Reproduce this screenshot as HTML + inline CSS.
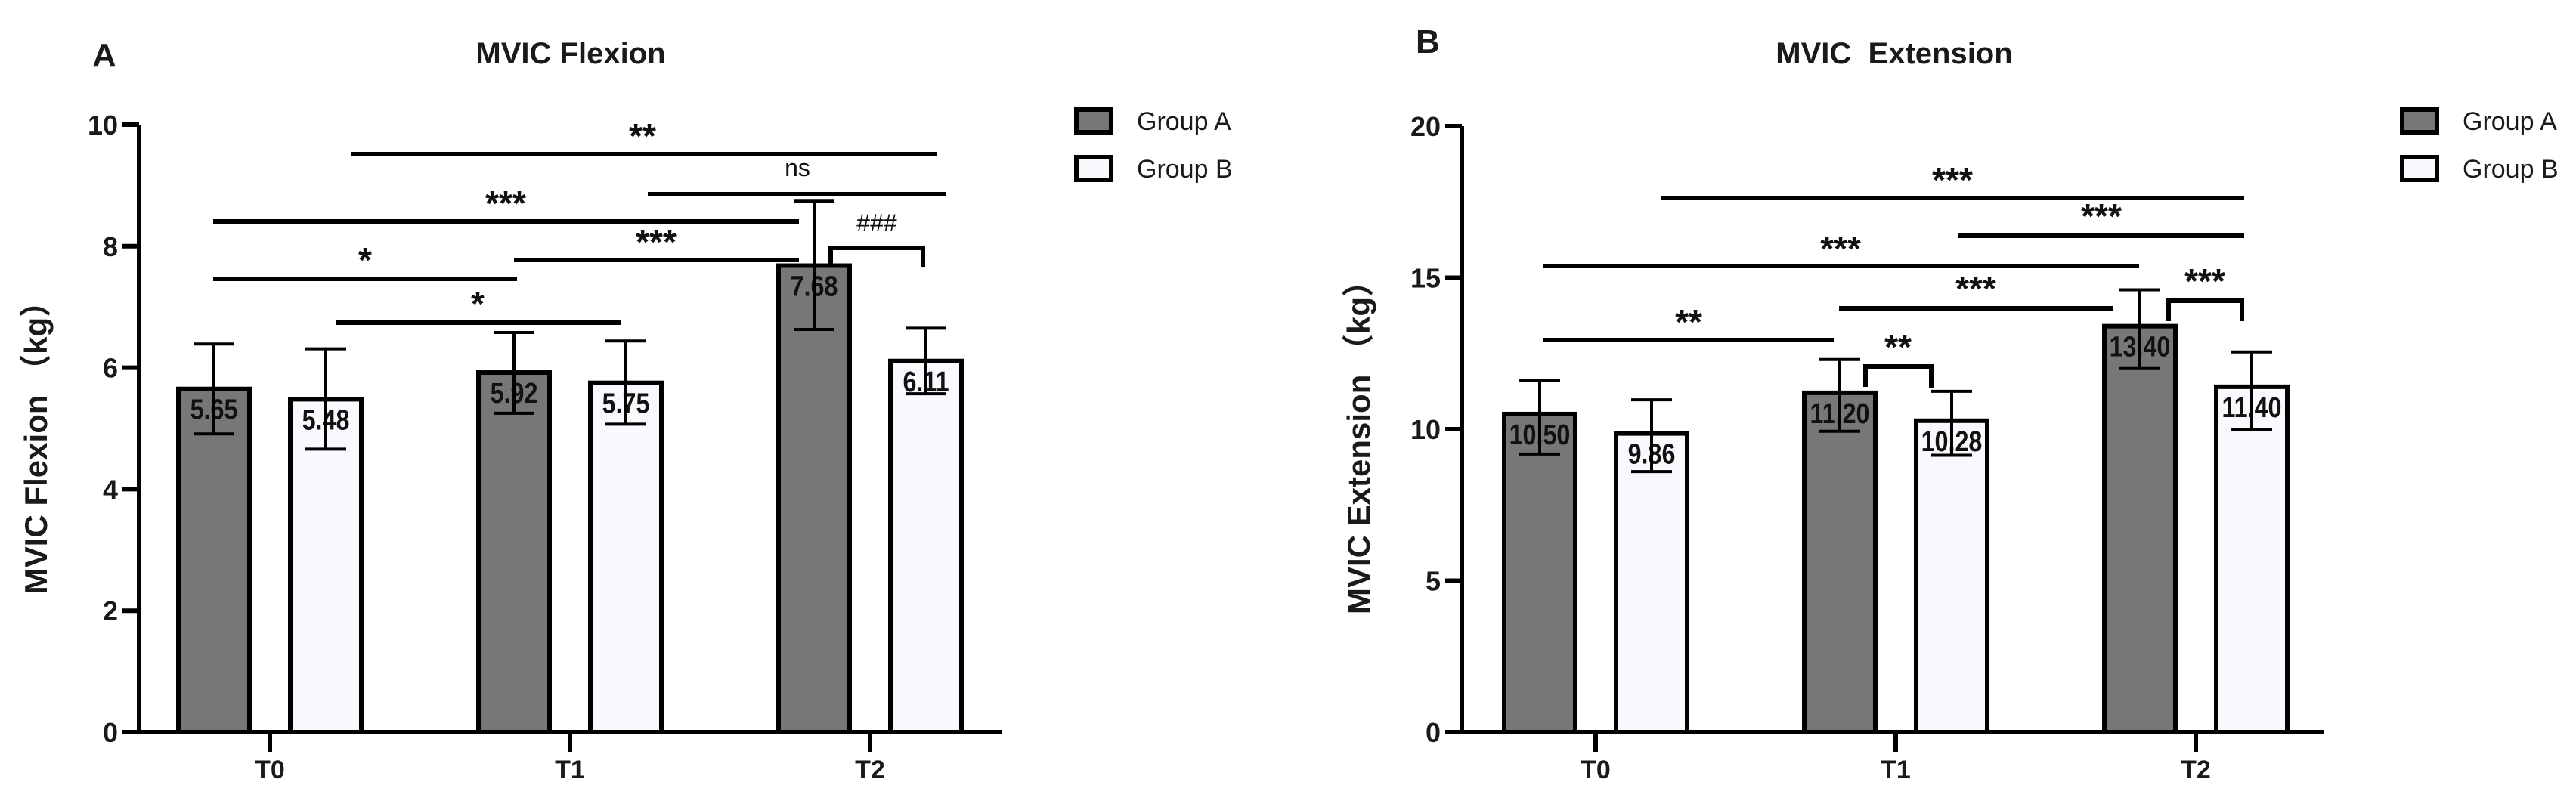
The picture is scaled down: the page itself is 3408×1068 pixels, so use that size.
<!DOCTYPE html>
<html><head><meta charset="utf-8"><style>
html,body{margin:0;padding:0;background:#fff;}
svg{display:block;font-family:"Liberation Sans","Noto Sans CJK SC",sans-serif;}
</style></head><body>
<svg id="chart" width="3408" height="1068" viewBox="0 0 3408 1068" xmlns="http://www.w3.org/2000/svg">
<rect width="3408" height="1068" fill="#fff"/>
<g id="pA"></g>
<g id="pB"></g>
</svg>
<script>
const categories = ["T0","T1","T2"];
const flexA = [5.65, 5.92, 7.68];
const flexB = [5.48, 5.75, 6.11];
const flexAHi = [6.39, 6.58, 8.74];
const flexALo = [4.91, 5.25, 6.63];
const flexBHi = [6.31, 6.44, 6.65];
const flexBLo = [4.66, 5.07, 5.57];
const flexLabelsA = ["5.65","5.92","7.68"];
const flexLabelsB = ["5.48","5.75","6.11"];
const flexTicks = [0,2,4,6,8,10];

const extA = [10.50, 11.20, 13.40];
const extB = [9.86, 10.28, 11.40];
const extAHi = [11.6, 12.3, 14.6];
const extALo = [9.18, 9.93, 12.0];
const extBHi = [10.97, 11.25, 12.55];
const extBLo = [8.6, 9.14, 10.0];
const extLabelsA = ["10.50","11.20","13.40"];
const extLabelsB = ["9.86","10.28","11.40"];
const extTicks = [0,5,10,15,20];

const NS = "http://www.w3.org/2000/svg";
function mk(parent, tag, attrs, text){
  const e = document.createElementNS(NS, tag);
  for (const k in attrs) e.setAttribute(k, attrs[k]);
  if (text !== undefined) e.textContent = text;
  parent.appendChild(e);
  return e;
}

function drawPanel(g, cfg){
  const y = v => cfg.y0 - (v/cfg.max)*(cfg.y0-cfg.yTop);
  const xc = i => cfg.x0tick + i*397;
  let t = mk(g,"text",{x:cfg.letterX,y:cfg.letterY,"font-size":44,"font-weight":"bold",fill:"#1a1a1a"},cfg.letter);
  
  
  t = mk(g,"text",{x:cfg.titleX,y:84,"font-size":40,"font-weight":"bold","text-anchor":"middle",fill:"#1a1a1a",style:"white-space:pre"},cfg.title);
  
  
  t = mk(g,"text",{x:0,y:0,"font-size":42,"font-weight":"bold","text-anchor":"middle",fill:"#1a1a1a",transform:`translate(${cfg.ylabX},${cfg.ylabY}) rotate(-90)`},cfg.ylabel);
  
  
  const series = [
    {vals:cfg.a, hi:cfg.aHi, lo:cfg.aLo, labs:cfg.aLab, fill:"#777777", off:-74, name:"group-a"},
    {vals:cfg.b, hi:cfg.bHi, lo:cfg.bLo, labs:cfg.bLab, fill:"#f8f9fd", off:74, name:"group-b"}
  ];
  series.forEach(s=>{
    s.vals.forEach((v,i)=>{
      const cx = xc(i)+s.off, w = 94;
      const r = mk(g,"rect",{x:cx-w/2,y:y(v),width:w,height:cfg.y0-y(v),fill:s.fill,stroke:"#000","stroke-width":6});
      
      
      const lab = mk(g,"text",{x:0,y:0,"font-size":38,"font-weight":"bold","text-anchor":"middle",fill:"#111",transform:`translate(${cx},${y(v)+40}) scale(0.85,1)`},s.labs[i]);
      
      
      const eb = mk(g,"path",{d:`M${cx},${y(s.hi[i])}V${y(s.lo[i])}M${cx-27},${y(s.hi[i])}H${cx+27}M${cx-27},${y(s.lo[i])}H${cx+27}`,stroke:"#000","stroke-width":4,fill:"none"});
      
      
    });
  });
  const ax = mk(g,"path",{d:`M${cfg.axX},${y(cfg.max)}V${cfg.y0}H${cfg.axEnd}`,stroke:"#000","stroke-width":6,fill:"none"});
  
  
  cfg.ticks.forEach(v=>{
    const tk = mk(g,"line",{x1:cfg.axX-22,x2:cfg.axX,y1:y(v),y2:y(v),stroke:"#000","stroke-width":6});
    
    
    const tl = mk(g,"text",{x:cfg.axX-28,y:y(v)+13,"font-size":36,"font-weight":"bold","text-anchor":"end",fill:"#1a1a1a"},String(v));
    
    
  });
  categories.forEach((c,i)=>{
    const tk = mk(g,"line",{x1:xc(i),x2:xc(i),y1:cfg.y0,y2:cfg.y0+26,stroke:"#000","stroke-width":6});
    
    
    const tl = mk(g,"text",{x:xc(i),y:1030,"font-size":34,"font-weight":"bold","text-anchor":"middle",fill:"#1a1a1a"},c);
    
    
  });
  cfg.sig.forEach(s=>{
    let d;
    if (s.type==="line") d = `M${s.x1},${s.y}H${s.x2}`;
    else d = `M${s.x1},${s.l}V${s.y}H${s.x2}V${s.r}`;
    const p = mk(g,"path",{d:d,stroke:"#000","stroke-width":6,fill:"none"});
    
    
    const tx = mk(g,"text",{x:s.tx,y:s.ty,"font-size":s.fs||46,"font-weight":s.bold===false?"normal":"bold","text-anchor":"middle",fill:"#111"},s.t);
    
    
  });
  [["Group A","#777777",160],["Group B","#f8f9fd",223]].forEach(l=>{
    const r = mk(g,"rect",{x:cfg.legX,y:l[2]-15,width:46,height:30,fill:l[1],stroke:"#000","stroke-width":6});
    
    
    const tx = mk(g,"text",{x:cfg.legX+80,y:l[2]+12,"font-size":34,fill:"#1a1a1a"},l[0]);
    
    
  });
}

drawPanel(document.getElementById('pA'),{
  letter:"A", letterX:122, letterY:88, title:"MVIC Flexion", titleX:755,
  ylabel:"MVIC Flexion （kg）", ylabX:62, ylabY:582,
  y0:969, yTop:165, max:10, ticks:flexTicks, axX:184, axEnd:1325, x0tick:357,
  a:flexA, b:flexB, aHi:flexAHi, aLo:flexALo, bHi:flexBHi, bLo:flexBLo, aLab:flexLabelsA, bLab:flexLabelsB,
  legX:1424,
  sig:[
    {type:"line",x1:464,x2:1240,y:204,t:"**",tx:850,ty:196},
    {type:"line",x1:857,x2:1252,y:257,t:"ns",tx:1055,ty:233,fs:32,bold:false},
    {type:"line",x1:282,x2:1057,y:293,t:"***",tx:669,ty:285},
    {type:"line",x1:680,x2:1057,y:344,t:"***",tx:868,ty:336},
    {type:"line",x1:282,x2:684,y:369,t:"*",tx:483,ty:360},
    {type:"line",x1:444,x2:821,y:427,t:"*",tx:632,ty:418},
    {type:"bracket",x1:1099,x2:1221,y:328,l:354,r:353,t:"###",tx:1160,ty:306,fs:32,bold:false}
  ]
});
drawPanel(document.getElementById('pB'),{
  letter:"B", letterX:1873, letterY:70, title:"MVIC  Extension", titleX:2506,
  ylabel:"MVIC Extension （kg）", ylabX:1812, ylabY:582,
  y0:969, yTop:167, max:20, ticks:extTicks, axX:1934, axEnd:3075, x0tick:2111,
  a:extA, b:extB, aHi:extAHi, aLo:extALo, bHi:extBHi, bLo:extBLo, aLab:extLabelsA, bLab:extLabelsB,
  legX:3178,
  sig:[
    {type:"line",x1:2198,x2:2969,y:262,t:"***",tx:2583,ty:254},
    {type:"line",x1:2591,x2:2969,y:312,t:"***",tx:2780,ty:302},
    {type:"line",x1:2041,x2:2830,y:352,t:"***",tx:2435,ty:345},
    {type:"line",x1:2433,x2:2795,y:408,t:"***",tx:2614,ty:398},
    {type:"line",x1:2041,x2:2427,y:450,t:"**",tx:2234,ty:442},
    {type:"bracket",x1:2468,x2:2555,y:485,l:512,r:514,t:"**",tx:2511,ty:475},
    {type:"bracket",x1:2869,x2:2966,y:398,l:425,r:425,t:"***",tx:2917,ty:388}
  ]
});
</script>
</body></html>
